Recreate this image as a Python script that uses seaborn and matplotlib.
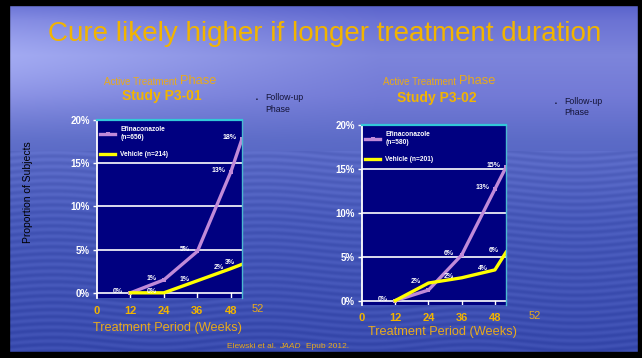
import numpy as np
import pandas as pd
import matplotlib
matplotlib.use("Agg")
import matplotlib.pyplot as plt
from matplotlib.patches import Rectangle
import matplotlib.colors as mcolors
import seaborn as sns

# ---------------- data ----------------
title = "Cure likely higher if longer treatment duration"
studies = ["Study P3-01", "Study P3-02"]
series = ["Efinaconazole", "Vehicle"]
legend_labels_1 = ["Efinaconazole\n(n=656)", "Vehicle (n=214)"]
legend_labels_2 = ["Efinaconazole\n(n=580)", "Vehicle (n=201)"]
weeks = [12, 24, 36, 48, 52]
efi_1 = [0.0, 1.5, 4.8, 14.0, 17.8]
veh_1 = [0.0, 0.0, 1.4, 2.8, 3.3]
efi_2 = [0.0, 1.2, 5.2, 12.7, 15.2]
veh_2 = [0.0, 2.0, 2.6, 3.5, 5.5]
efi_text_1 = ["0%", "1%", "5%", "13%", "18%"]
veh_text_1 = ["", "0%", "1%", "2%", "3%"]
efi_text_2 = ["0%", "", "6%", "13%", "15%"]
veh_text_2 = ["", "2%", "2%", "4%", "6%"]
xticks = [0, 12, 24, 36, 48]
xtick_labels = ["0", "12", "24", "36", "48"]
extra_xlabel = "52"
yticks = [0, 5, 10, 15, 20]
ytick_labels = ["0%", "5%", "10%", "15%", "20%"]
xlabel = "Treatment Period (Weeks)"
ylabel = "Proportion of Subjects"
footer = ["Elewski et al.", "JAAD", "Epub 2012."]

W, H = 642, 358
fig = plt.figure(figsize=(W / 100, H / 100), dpi=100)
FONT = "Liberation Sans"
plt.rcParams["font.family"] = [FONT, "DejaVu Sans"]

# ---------------- background ----------------
bg = fig.add_axes([0, 0, 1, 1], zorder=-10)
yy, xx = np.mgrid[0:H, 0:W]
anch_y = [0, 20, 55, 95, 140, 220, 358]
anch_c = np.array([[0.33, 0.37, 0.79],
                   [0.42, 0.45, 0.83],
                   [0.49, 0.52, 0.86],
                   [0.45, 0.48, 0.84],
                   [0.36, 0.42, 0.78],
                   [0.28, 0.35, 0.73],
                   [0.22, 0.29, 0.68]])
img = np.zeros((H, W, 3))
for c in range(3):
    img[..., c] = np.interp(yy, anch_y, anch_c[:, c])
left_light = np.clip(1 - xx / 380, 0, 1) * np.exp(-((yy - 55) / 60.0) ** 2) * 0.15
streak = 0.025 * np.sin(yy * 0.9 + np.sin(xx * 0.03) * 3) * (yy > 150)
img = img + left_light[..., None] * np.array([1.0, 1.0, 0.6]) + streak[..., None]
img = np.clip(img, 0, 1)
bg.imshow(img, extent=[0, W, H, 0], aspect="auto")
bg.set_xlim(0, W)
bg.set_ylim(H, 0)
bg.axis("off")
# black frame
for (x0, y0, w, h) in [(0, 0, 9, H), (0, 0, W, 5), (638, 0, 4, H), (0, 352, W, 6)]:
    bg.add_patch(Rectangle((x0, y0), w, h, color="black", zorder=5))

ORANGE = "#f2b400"
GOLD = "#e8aa1c"
PURPLE = "#c08ad8"
YELLOW = "#ffff00"
NAVY = "#000080"

def px(x, y):
    return x / W, 1 - y / H

# title
fig.text(*px(325, 34), title, ha="center", va="center", fontsize=20,
         color=ORANGE, family=FONT)
fig.text(*px(28, 192), ylabel, rotation=90, ha="center", va="center",
         fontsize=7.5, color="black", family=FONT)

def panel(rect, efi, veh, efi_txt, veh_txt, leg_labels, study, sub_x, sub_split,
          study_y, fu_xy, xl_y, fifty_two_x, fifty_two_y, ylim_lo):
    ax = fig.add_axes(rect)
    df = pd.DataFrame({
        "week": weeks + weeks,
        "value": efi + veh,
        "series": [series[0]] * len(weeks) + [series[1]] * len(weeks),
    })
    sns.lineplot(data=df, x="week", y="value", hue="series",
                 palette={series[0]: PURPLE, series[1]: YELLOW},
                 style="series", markers={series[0]: "s", series[1]: "o"},
                 dashes=False, markersize=3.5, markeredgewidth=0,
                 linewidth=2.4, ax=ax, legend=True)
    ax.set_facecolor(NAVY)
    ax.set_xlim(0, 52)
    ax.set_ylim(ylim_lo, 20)
    for v in [0, 5, 10, 15]:
        ax.axhline(v, color="white", lw=1.2, zorder=0.5)
    ax.set_yticks(yticks)
    ax.set_yticklabels(ytick_labels, fontsize=7, fontweight="bold", color="white")
    ax.set_xticks(xticks)
    ax.set_xticklabels(xtick_labels, fontsize=8, fontweight="bold", color=ORANGE)
    ax.tick_params(axis="y", length=3, color="white", width=1, pad=2)
    ax.tick_params(axis="x", length=0, pad=6)
    for v in xticks[1:]:
        ax.plot([v, v], [ylim_lo, 0], color="white", lw=1, zorder=0.6)
    ax.spines["left"].set_color("white")
    ax.spines["left"].set_linewidth(1.3)
    ax.spines["bottom"].set_visible(False)
    ax.spines["top"].set_color("#33c8d8")
    ax.spines["top"].set_linewidth(1.6)
    ax.spines["right"].set_color("#4ab8d0")
    ax.spines["right"].set_linewidth(1.0)
    ax.set_xlabel("")
    ax.set_ylabel("")
    # point labels
    for xs, ys, txts in [(weeks, efi, efi_txt), (weeks, veh, veh_txt)]:
        for x, y, t in zip(xs, ys, txts):
            if t:
                ax.annotate(t, (x, y), xytext=(-9, 1), textcoords="offset points",
                            ha="center", va="center", fontsize=5,
                            fontweight="bold", color="white", zorder=5)
    handles, _ = ax.get_legend_handles_labels()
    leg = ax.legend(handles, leg_labels, loc="upper left",
                    bbox_to_anchor=(-0.01, 0.99), frameon=False, fontsize=4.8,
                    handlelength=2.2, labelspacing=1.5, borderaxespad=0.3)
    for t in leg.get_texts():
        t.set_color("white")
        t.set_fontweight("bold")
    # no markers on the yellow series
    for ln in list(ax.lines) + list(leg.get_lines()):
        if mcolors.same_color(ln.get_color(), YELLOW):
            ln.set_marker("")
    # subtitles
    fig.text(*px(sub_split, 82), "Active Treatment ", ha="right", va="center",
             fontsize=7, color=GOLD)
    fig.text(*px(sub_split, 81), "Phase", ha="left", va="center",
             fontsize=9.3, color=GOLD)
    fig.text(*px(sub_x, study_y), study, ha="center", va="center",
             fontsize=10, fontweight="bold", color=ORANGE)
    bx, by = fu_xy
    fig.text(*px(bx, by + 1), "\u25aa", ha="center", va="center", fontsize=4,
             color="#141438")
    fig.text(*px(bx + 8, by - 1), "Follow-up", ha="left", va="center",
             fontsize=6.3, color="#141438")
    fig.text(*px(bx + 8, by + 10), "Phase", ha="left", va="center",
             fontsize=6.3, color="#141438")
    fig.text(*px(sub_x + 6, xl_y), xlabel, ha="center", va="center",
             fontsize=9.2, color=GOLD)
    fig.text(*px(fifty_two_x, fifty_two_y), extra_xlabel, ha="center",
             va="center", fontsize=8, color=GOLD)
    return ax

# left panel: x 97..242, y 120..298
panel([97 / W, 1 - 298 / H, 145 / W, 178 / H], efi_1, veh_1, efi_text_1,
      veh_text_1, legend_labels_1, studies[0], 162, 180, 96, (257, 99),
      328, 258, 309, -0.6)
# right panel: x 362..506, y 125..305
panel([362 / W, 1 - 305 / H, 144 / W, 180 / H], efi_2, veh_2, efi_text_2,
      veh_text_2, legend_labels_2, studies[1], 437, 459, 98, (556, 103),
      332, 535, 316, -0.5)

# footer
fig.text(*px(276, 346), footer[0], ha="right", va="center", fontsize=6,
         color=GOLD)
fig.text(*px(279, 346), footer[1], ha="left", va="center", fontsize=6,
         color=GOLD, style="italic")
fig.text(*px(306, 346), footer[2], ha="left", va="center", fontsize=6,
         color=GOLD)

fig.savefig("out.png", dpi=100)
